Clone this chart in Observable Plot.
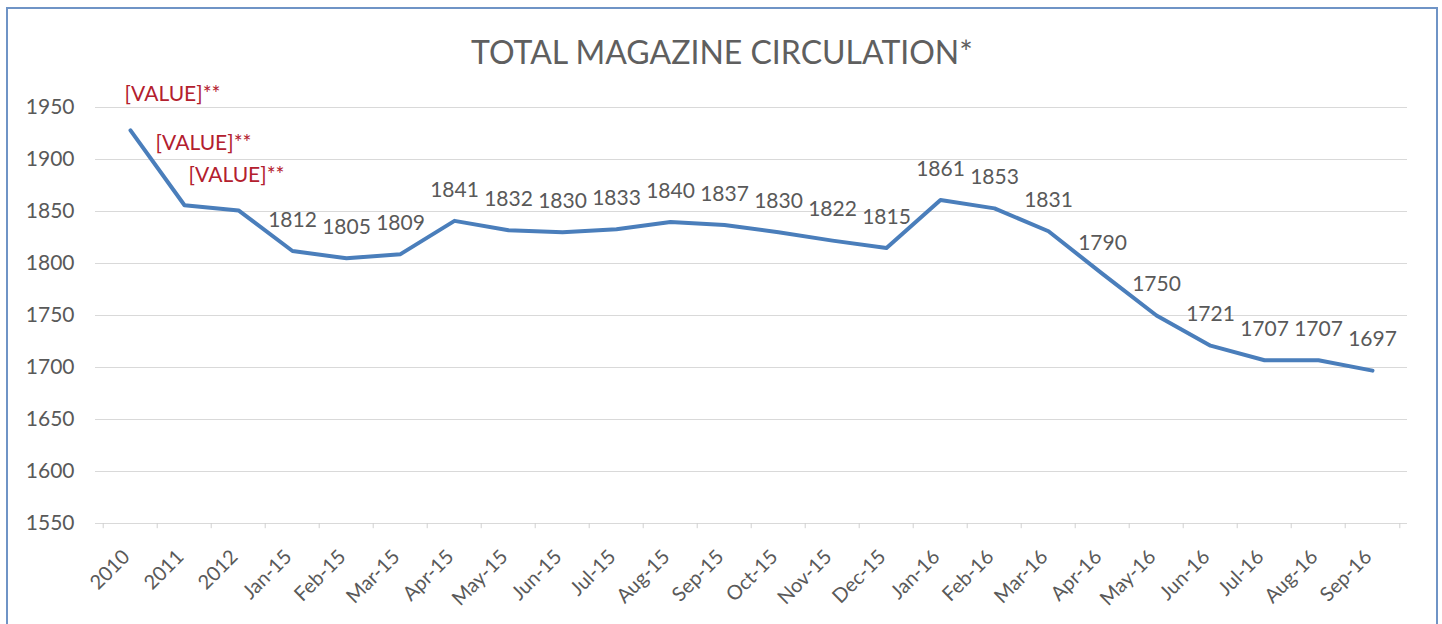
<!DOCTYPE html>
<html>
<head>
<meta charset="utf-8">
<script src="https://cdn.jsdelivr.net/npm/d3@7"></script>
<script src="https://cdn.jsdelivr.net/npm/@observablehq/plot@0.6"></script>
<style>
  html, body { margin: 0; padding: 0; background: #ffffff; overflow: hidden; }
  #frame {
    position: absolute; left: 6px; top: 7px; width: 1428px;
    border: 2px solid #6f94c6; background: #ffffff;
  }
  #title {
    height: 71px; box-sizing: border-box; padding-top: 24px;
    text-align: center; font-family: Lato, sans-serif; font-size: 32px;
    font-weight: 400; color: #5f5f5f; line-height: 1.2;
  }
  #chart svg { display: block; }
</style>
</head>
<body>
<div id="frame">
  <div id="title">TOTAL MAGAZINE CIRCULATION*</div>
  <div id="chart"></div>
</div>
<script>
const categories = ["2010","2011","2012","Jan-15","Feb-15","Mar-15","Apr-15","May-15","Jun-15","Jul-15","Aug-15","Sep-15","Oct-15","Nov-15","Dec-15","Jan-16","Feb-16","Mar-16","Apr-16","May-16","Jun-16","Jul-16","Aug-16","Sep-16"];
const values = [1928,1856,1851,1812,1805,1809,1841,1832,1830,1833,1840,1837,1830,1822,1815,1861,1853,1831,1790,1750,1721,1707,1707,1697];
const placeholderLabel = "[VALUE]**";
const yTicks = [1550,1600,1650,1700,1750,1800,1850,1900,1950];

const data = categories.map((c, i) => ({cat: c, value: values[i]}));
const textColor = "#595959";
const red = "#b3202e";

const chart = Plot.plot({
  width: 1428,
  height: 544,
  marginLeft: 87,
  marginRight: 29,
  marginTop: 27,
  marginBottom: 101,
  style: {fontFamily: "Lato, sans-serif", color: textColor, background: "transparent", overflow: "visible"},
  x: {type: "point", domain: categories, padding: 0.5, label: null},
  y: {domain: [1550, 1950], label: null},
  marks: [
    Plot.gridY(yTicks, {stroke: "#d9d9d9", strokeOpacity: 1}),
    Plot.axisY(yTicks, {tickSize: 0, tickPadding: 21, fontSize: 21, label: null, tickFormat: "d"}),
    Plot.axisX({tickSize: 0, tickPadding: 30, tickRotate: -45, fontSize: 20, dx: -4, label: null}),
    Plot.ruleX(categories, {x: d => d, y1: 1550, y2: 1545, dx: -27.3, stroke: "#d0d0d0"}),
    Plot.ruleX(categories.slice(-1), {x: d => d, y1: 1550, y2: 1545, dx: 27.3, stroke: "#d0d0d0"}),
    Plot.lineY(data, {x: "cat", y: "value", stroke: "#4a7ebb", strokeWidth: 4, strokeLinejoin: "round"}),
    Plot.text(data.slice(3), {x: "cat", y: "value", text: d => String(d.value), dy: -31, fontSize: 21, fill: textColor}),
    Plot.text(data.slice(0, 1), {x: "cat", y: "value", text: () => placeholderLabel, dx: 42, dy: -36, fontSize: 21, fill: red}),
    Plot.text(data.slice(1, 2), {x: "cat", y: "value", text: () => placeholderLabel, dx: 19, dy: -62, fontSize: 21, fill: red}),
    Plot.text(data.slice(2, 3), {x: "cat", y: "value", text: () => placeholderLabel, dx: -2, dy: -35, fontSize: 21, fill: red})
  ]
});
document.getElementById("chart").appendChild(chart);
</script>
</body>
</html>
